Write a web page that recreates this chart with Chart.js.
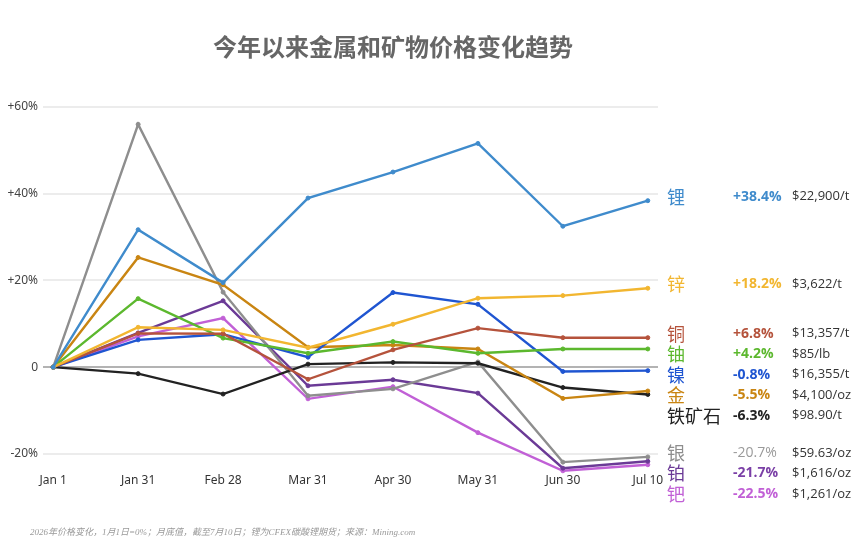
<!DOCTYPE html>
<html>
<head>
<meta charset="utf-8">
<script src="https://cdn.jsdelivr.net/npm/chart.js@4.4.1/dist/chart.umd.min.js"></script>
<style>
  html, body { margin: 0; padding: 0; background: #fff; }
  #wrap { width: 865px; height: 553px; position: relative; }
</style>
</head>
<body>
<div id="wrap"><canvas id="c" width="865" height="553"></canvas></div>
<script>
const categories = ['Jan 1','Jan 31','Feb 28','Mar 31','Apr 30','May 31','Jun 30','Jul 10'];
const yTicks = [-20, 0, 20, 40, 60];

const lithium   = [0, 31.7, 19.5, 39.0, 45.0, 51.6, 32.5, 38.4];
const zinc      = [0, 9.2, 8.6, 4.5, 9.9, 15.9, 16.5, 18.2];
const copper    = [0, 7.8, 7.7, -2.8, 4.0, 9.0, 6.8, 6.8];
const uranium   = [0, 15.8, 6.7, 3.2, 5.9, 3.2, 4.2, 4.2];
const nickel    = [0, 6.3, 7.6, 2.3, 17.2, 14.5, -1.0, -0.8];
const gold      = [0, 25.3, 19.0, 4.6, 5.1, 4.2, -7.2, -5.5];
const ironOre   = [0, -1.5, -6.2, 0.7, 1.1, 0.9, -4.7, -6.3];
const silver    = [0, 56.0, 17.3, -6.6, -5.0, 1.2, -21.9, -20.7];
const platinum  = [0, 7.9, 15.3, -4.3, -2.9, -6.0, -23.3, -21.7];
const palladium = [0, 7.1, 11.3, -7.3, -4.5, -15.1, -23.9, -22.5];

const names        = ['锂','锌','铜','铀','镍','金','铁矿石','银','铂','钯'];
const changeLabels = ['+38.4%','+18.2%','+6.8%','+4.2%','-0.8%','-5.5%','-6.3%','-20.7%','-21.7%','-22.5%'];
const prices       = ['$22,900/t','$3,622/t','$13,357/t','$85/lb','$16,355/t','$4,100/oz','$98.90/t','$59.63/oz','$1,616/oz','$1,261/oz'];

const seriesList = [lithium, zinc, copper, uranium, nickel, gold, ironOre, silver, platinum, palladium];
const colors = ['#3f8bcc','#f2b630','#b5533c','#5cb82e','#1f55d1','#c98512','#222222','#8e8e8e','#6b3a96','#c160d6'];
const pctColors = ['#3f8bcc','#f2b630','#b5533c','#5cb82e','#1f55d1','#c98512','#222222','#9a9a9a','#7a3fa6','#c160d6'];

const datasets = seriesList.map((s, i) => ({
  label: names[i],
  data: s.map((v, j) => ({ x: j, y: v })),
  borderColor: colors[i],
  backgroundColor: colors[i],
  borderWidth: 2.4,
  pointRadius: 2,
  pointHoverRadius: 2,
  pointBorderWidth: 1,
  tension: 0,
  clip: false
}));

const decorPlugin = {
  id: 'decor',
  afterDraw(chart) {
    const ctx = chart.ctx;
    const ys = chart.scales.y;
    ctx.save();
    // Title
    ctx.fillStyle = '#666';
    ctx.font = 'bold 24px "Noto Sans CJK SC", sans-serif';
    ctx.textAlign = 'center';
    ctx.textBaseline = 'middle';
    ctx.fillText('今年以来金属和矿物价格变化趋势', 393, 47);

    // Right-side labels with collision avoidance
    const items = seriesList.map((s, i) => ({ i, y: ys.getPixelForValue(s[s.length - 1]) - 4 }));
    items.sort((a, b) => a.y - b.y);
    const gap = 20.5;
    for (let k = 1; k < items.length; k++) {
      if (items[k].y < items[k - 1].y + gap) items[k].y = items[k - 1].y + gap;
    }
    items.forEach(it => {
      const i = it.i;
      ctx.textAlign = 'left';
      ctx.textBaseline = 'middle';
      ctx.fillStyle = colors[i];
      ctx.font = '18px "Noto Sans CJK SC", sans-serif';
      ctx.fillText(names[i], 667, it.y);
      ctx.fillStyle = pctColors[i];
      ctx.font = (i === 7 ? '' : 'bold ') + '14px "Open Sans", sans-serif';
      ctx.fillText(changeLabels[i], 733, it.y);
      ctx.fillStyle = '#333';
      ctx.font = '13px "Open Sans", sans-serif';
      ctx.fillText(prices[i], 792, it.y);
    });

    // Footnote
    ctx.fillStyle = '#999';
    ctx.font = 'italic 9px "Liberation Serif", "Noto Sans CJK SC", serif';
    ctx.textAlign = 'left';
    ctx.textBaseline = 'middle';
    ctx.fillText('2026年价格变化，1月1日=0%；月底值，截至7月10日；锂为CFEX碳酸锂期货；来源：Mining.com', 30, 533);
    ctx.restore();
  }
};

new Chart(document.getElementById('c'), {
  type: 'line',
  data: { datasets },
  plugins: [decorPlugin],
  options: {
    responsive: false,
    animation: false,
    events: [],
    layout: { padding: { top: 107, right: 207, bottom: 59.6, left: 0 } },
    plugins: { legend: { display: false }, tooltip: { enabled: false }, title: { display: false } },
    scales: {
      x: {
        type: 'linear',
        min: -0.12,
        max: 7.12,
        afterBuildTicks(scale) { scale.ticks = categories.map((c, i) => ({ value: i })); },
        afterFit(scale) { scale.height = 20; },
        ticks: {
          padding: 0,
          autoSkip: false,
          maxRotation: 0,
          color: '#333',
          font: { family: '"Noto Sans", sans-serif', size: 12 },
          callback: (v) => categories[v]
        },
        grid: { display: false, drawTicks: false },
        border: { display: false }
      },
      y: {
        min: -24.5,
        max: 60,
        afterBuildTicks(scale) { scale.ticks = yTicks.map(v => ({ value: v })); },
        afterFit(scale) { scale.width = 43; },
        ticks: {
          padding: 5,
          color: '#444',
          font: { family: '"Noto Sans", sans-serif', size: 12 },
          callback: (v) => v === 0 ? '0' : (v > 0 ? '+' + v + '%' : v + '%')
        },
        grid: {
          drawTicks: false,
          color: (c) => c.tick && c.tick.value === 0 ? '#b3b3b3' : '#ececec',
          lineWidth: 2
        },
        border: { display: false }
      }
    }
  }
});
</script>
</body>
</html>
